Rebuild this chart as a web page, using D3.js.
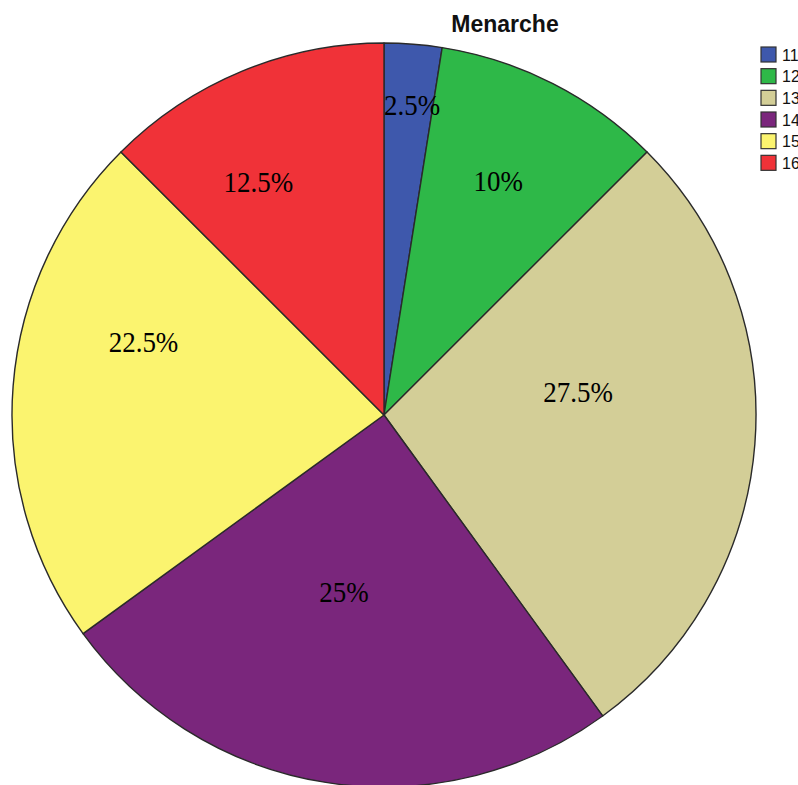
<!DOCTYPE html>
<html>
<head>
<meta charset="utf-8">
<script src="https://cdn.jsdelivr.net/npm/d3@7"></script>
<style>
  html, body { margin: 0; padding: 0; background: #fff; }
  svg { display: block; }
</style>
</head>
<body>
<svg id="chart" width="798" height="785"></svg>
<script>
// Age at menarche (years) and share of respondents (%)
const categories = ["11", "12", "13", "14", "15", "16"];
const percents = [2.5, 10, 27.5, 25, 22.5, 12.5];
const labels = ["2.5%", "10%", "27.5%", "25%", "22.5%", "12.5%"];
const colors = ["#3E58AC", "#2EB848", "#D3CE97", "#7A267C", "#FBF46F", "#F03238"];

// Label placement: angle offset from slice mid-angle (deg) and radial fraction
const labelAngleShift = [0.7, -1.0, -11.0, 3.7, 12.2, -5.9];
const labelRadiusFrac = [0.835, 0.70, 0.525, 0.49, 0.675, 0.71];

const svg = d3.select("#chart");
const cx = 384, cy = 415, R = 372;

const pie = d3.pie().sort(null).value(d => d)(percents);
const arc = d3.arc().innerRadius(0).outerRadius(R);

const g = svg.append("g").attr("transform", `translate(${cx},${cy})`);

g.selectAll("path.slice")
  .data(pie)
  .join("path")
  .attr("class", "slice")
  .attr("d", arc)
  .attr("fill", (d, i) => colors[i])
  .attr("stroke", "#2a2a2a")
  .attr("stroke-width", 1.4)
  .attr("stroke-linejoin", "round");

g.selectAll("text.val")
  .data(pie)
  .join("text")
  .attr("class", "val")
  .attr("transform", (d, i) => {
    const a = (d.startAngle + d.endAngle) / 2 + labelAngleShift[i] * Math.PI / 180;
    const r = R * labelRadiusFrac[i];
    const x = Math.sin(a) * r, y = -Math.cos(a) * r;
    return `translate(${x},${y}) scale(0.93,1)`;
  })
  .attr("text-anchor", "middle")
  .attr("dy", "0.33em")
  .attr("font-family", "'Liberation Serif', 'Times New Roman', serif")
  .attr("font-size", 29)
  .attr("fill", "#000")
  .text((d, i) => labels[i]);

// Title
svg.append("text")
  .attr("x", 505)
  .attr("y", 32)
  .attr("text-anchor", "middle")
  .attr("font-family", "'Liberation Sans', Arial, sans-serif")
  .attr("font-weight", "bold")
  .attr("font-size", 23)
  .attr("fill", "#111")
  .text("Menarche");

// Legend
const legY = d3.scaleBand().domain(categories).range([45, 175]).paddingInner(0);
const leg = svg.append("g");
const items = leg.selectAll("g.item")
  .data(categories)
  .join("g")
  .attr("class", "item")
  .attr("transform", d => `translate(761,${legY(d) + 2})`);

items.append("rect")
  .attr("width", 15)
  .attr("height", 15)
  .attr("fill", (d, i) => colors[i])
  .attr("stroke", "#333")
  .attr("stroke-width", 1.2);

items.append("text")
  .attr("x", 21)
  .attr("y", 8)
  .attr("dy", "0.36em")
  .attr("font-family", "'Liberation Sans', Arial, sans-serif")
  .attr("font-size", 16)
  .attr("fill", "#111")
  .text(d => d);
</script>
</body>
</html>
